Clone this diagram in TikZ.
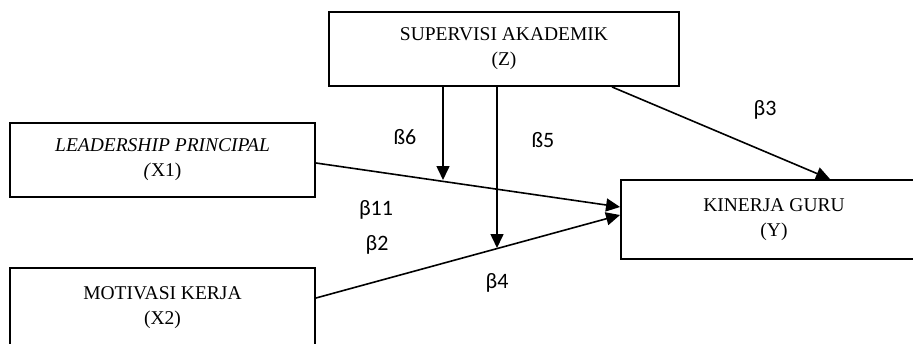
\documentclass[tikz,border=0pt]{standalone}
\usepackage{fontspec}
\setmainfont{Liberation Serif}
\newfontfamily\labfont{Carlito}
\usetikzlibrary{arrows.meta,calc}
\begin{document}
\begin{tikzpicture}[x=1pt,y=-1pt,
  box/.style={draw,line width=1.9pt,rectangle,align=center,font=\fontsize{19.5}{25}\selectfont,inner sep=0pt},
  arr/.style={line width=1.6pt,-{Triangle[length=14pt,width=13pt]}},
  lab/.style={font=\labfont\fontsize{22}{26}\selectfont,inner sep=0pt}]
\useasboundingbox (0,0) rectangle (913,343);
\clip (0,0) rectangle (913,343);
\fill[white] (0,0) rectangle (913,343);
\node[box,minimum width=350pt,minimum height=74pt] (sup) at (504,49) {SUPERVISI AKADEMIK\\(Z)};
\node[box,minimum width=305pt,minimum height=74pt] (ldr) at (162.5,160) {\textit{LEADERSHIP PRINCIPAL}\\\textit{(}X1)};
\node[box,minimum width=305pt,minimum height=79pt] (mot) at (162.5,307.5) {MOTIVASI KERJA\\(X2)};
\node[box,minimum width=306pt,minimum height=79pt] (kin) at (774,219.5) {KINERJA GURU\\(Y)};
\coordinate (m1) at (443,180);
\coordinate (m2) at (497,248);
\draw[arr] ($(ldr.east)+(0,3)$) -- ($(kin.west)+(0,-12.5)$);
\draw[arr] ($(mot.east)+(0,-9.5)$) -- ($(kin.west)+(0,-4.5)$);
\draw[arr] (sup.south -| m1) -- (m1);
\draw[arr] (sup.south -| m2) -- (m2);
\draw[arr] ($(sup.south)+(108,0)$) -- ($(kin.north)+(56,0)$);
\node[lab] (b6) at (405,137) {ß6};
\node[lab] (b5) at (543,140) {ß5};
\node[lab] (b3) at (765,110) {β3};
\node[lab] (b11) at (376,210) {β11};
\node[lab] (b2) at (377,245) {β2};
\node[lab] (b4) at (497,283) {β4};
\end{tikzpicture}
\end{document}
